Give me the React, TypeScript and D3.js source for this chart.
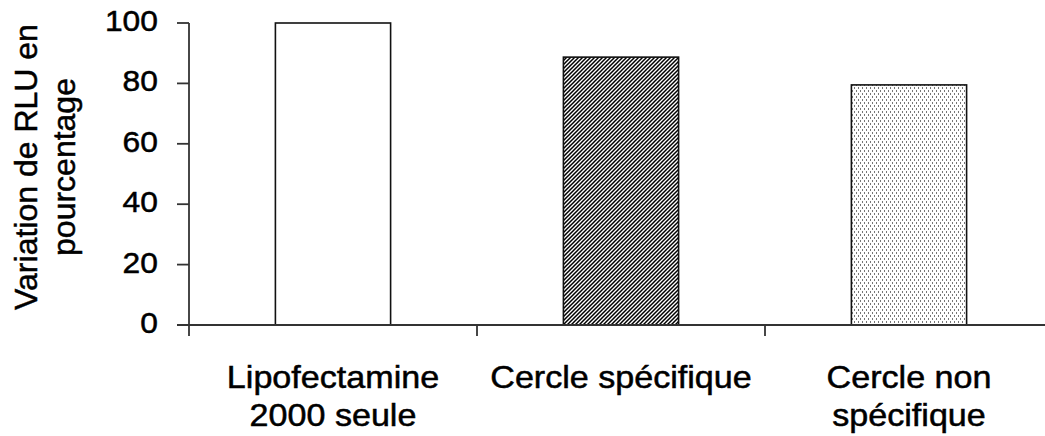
import React from "react";
import * as d3 from "d3";

const categories = ["Lipofectamine 2000 seule", "Cercle spécifique", "Cercle non spécifique"];
const categoryLines = [["Lipofectamine", "2000 seule"], ["Cercle spécifique"], ["Cercle non", "spécifique"]];
const values = [100, 88.7, 79.5];
const fills = ["white", "url(#hatch)", "url(#dots)"];
const yTicks = [0, 20, 40, 60, 80, 100];
const yLabelLines = ["Variation de RLU en", "pourcentage"];

const W = 1045;
const H = 436;

export default function App() {
  const x = d3.scaleBand<string>().domain(categories).range([189, 1053]).paddingInner(0).paddingOuter(0);
  const y = d3.scaleLinear().domain([0, 100]).range([325, 23]);
  const bw = x.bandwidth() * 0.4;
  const font = "'Liberation Sans', Arial, sans-serif";
  const axisColor = "#333";
  const textStroke = { stroke: "#000", strokeWidth: 0.5 };

  return (
    <svg width={W} height={H} style={{ position: "absolute", left: 0, top: 0, background: "white" }} fontFamily={font}>
      <defs>
        <pattern id="hatch" width={4} height={4} patternUnits="userSpaceOnUse">
          <rect width={4} height={4} fill="white" />
          <path d="M-1,1 l2,-2 M0,4 l4,-4 M3,5 l2,-2" stroke="black" strokeWidth={1.5} />
        </pattern>
        <pattern id="dots" width={4} height={6} patternUnits="userSpaceOnUse">
          <rect width={4} height={6} fill="white" />
          <rect x={0} y={0} width={1} height={2} fill="#777" />
          <rect x={2} y={3} width={1} height={2} fill="#777" />
        </pattern>
      </defs>
      <rect width={W} height={H} fill="white" />

      {categories.map((c, i) => {
        const cx = (x(c) as number) + x.bandwidth() / 2;
        return (
          <rect
            key={c}
            x={cx - bw / 2}
            y={y(values[i])}
            width={bw}
            height={y(0) - y(values[i])}
            fill={fills[i]}
            stroke="#111"
            strokeWidth={1.6}
          />
        );
      })}

      {/* y axis */}
      <line x1={189} x2={189} y1={y(100)} y2={y(0)} stroke={axisColor} strokeWidth={1.8} />
      {yTicks.map((t) => (
        <g key={t}>
          <line x1={177} x2={189} y1={y(t)} y2={y(t)} stroke={axisColor} strokeWidth={1.8} />
          <g transform={`translate(158,${y(t) + 8}) scale(1.06,1)`}>
            <text textAnchor="end" fontSize={30} fill="#000" {...textStroke}>{t}</text>
          </g>
        </g>
      ))}

      {/* x axis */}
      <line x1={177} x2={1053} y1={y(0)} y2={y(0)} stroke={axisColor} strokeWidth={1.8} />
      {[...categories.map((c) => x(c) as number), 1053].map((v, i) => (
        <line key={i} x1={v} x2={v} y1={y(0)} y2={336} stroke={axisColor} strokeWidth={1.8} />
      ))}

      {categories.map((c, i) => {
        const cx = (x(c) as number) + x.bandwidth() / 2;
        return categoryLines[i].map((ln, j) => (
          <g key={c + j} transform={`translate(${cx},${388 + j * 38}) scale(1.1,1)`}>
            <text textAnchor="middle" fontSize={31} fill="#000" {...textStroke}>{ln}</text>
          </g>
        ));
      })}

      {yLabelLines.map((ln, j) => (
        <text
          key={j}
          transform={`translate(${37 + j * 38},167) rotate(-90)`}
          textAnchor="middle"
          fontSize={32}
          fill="#000"
          {...textStroke}
        >
          {ln}
        </text>
      ))}
    </svg>
  );
}
